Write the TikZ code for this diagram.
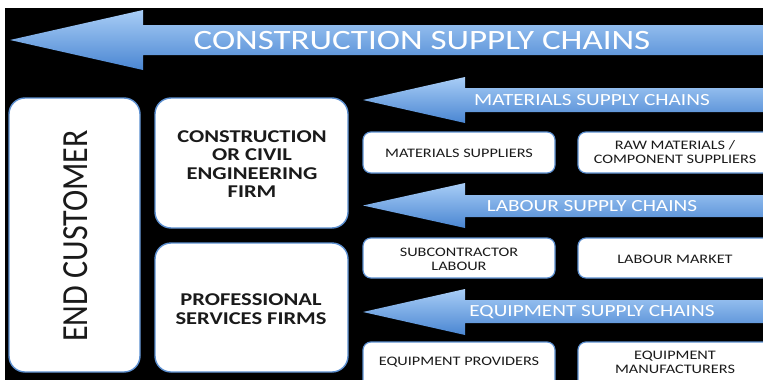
\documentclass[tikz,border=0pt]{standalone}
\usepackage{fontspec}
\setmainfont{Carlito}
\definecolor{arrtop}{HTML}{A8CDF6}
\definecolor{arrbot}{HTML}{4A86D2}
\definecolor{boxline}{HTML}{5C8FD0}
\definecolor{boxtext}{HTML}{1A1A1A}
\tikzset{
  x=1pt, y=-1pt,
  arrowshade/.style={top color=arrtop, bottom color=arrbot, draw=none},
  arrlabel/.style={text=white, inner sep=0pt, xscale=1.25, font=\fontsize{17}{19}\selectfont},
  bigbox/.style={draw=boxline, line width=1.4pt, fill=white, rounded corners=16pt},
  smallbox/.style={draw=boxline, line width=1.2pt, fill=white, rounded corners=8pt},
  bigtext/.style={text=boxtext, align=center, inner sep=0pt, xscale=1.25, font=\bfseries\fontsize{18}{18.5}\selectfont},
  smalltext/.style={text=boxtext, align=center, inner sep=0pt, xscale=1.25, font=\fontsize{13}{14}\selectfont},
}
\begin{document}
\begin{tikzpicture}
\useasboundingbox (0,0) rectangle (763,380);
\clip (0,0) rectangle (763,380);
\fill[white] (0,0) rectangle (763,380);
\fill[black] (5,8) rectangle (770,390);

% big arrow
\shade[arrowshade] (10,40) -- (143,10) -- (143,25) -- (780,25) -- (780,55) -- (143,55) -- (143,70) -- cycle;
\node[arrlabel, font=\fontsize{28}{30}\selectfont] (cs) at (422,41) {CONSTRUCTION SUPPLY CHAINS};

% materials arrow
\shade[arrowshade] (363,100) -- (465,77) -- (465,88) -- (780,88) -- (780,112) -- (465,112) -- (465,123) -- cycle;
\node[arrlabel] (ms) at (592,100) {MATERIALS SUPPLY CHAINS};

% labour arrow
\shade[arrowshade] (363,205.5) -- (465,183) -- (465,195) -- (780,195) -- (780,217) -- (465,217) -- (465,228) -- cycle;
\node[arrlabel] (ls) at (592,206) {LABOUR SUPPLY CHAINS};

% equipment arrow
\shade[arrowshade] (363,312) -- (465,289) -- (465,300) -- (780,300) -- (780,323) -- (465,323) -- (465,335) -- cycle;
\node[arrlabel] (es) at (592,312) {EQUIPMENT SUPPLY CHAINS};

% left boxes
\draw[bigbox] (9,98) rectangle (140,372);
\node[text=boxtext, inner sep=0pt, rotate=90, font=\fontsize{32}{34}\selectfont] (ec) at (76,236) {\scalebox{1}[1.15]{END CUSTOMER}};

\draw[bigbox] (155,98) rectangle (348,228);
\node[bigtext] (cf) at (252,164) {CONSTRUCTION\\OR CIVIL\\ENGINEERING\\FIRM};

\draw[bigbox] (155,243) rectangle (348,372);
\node[bigtext] (pf) at (251,309) {PROFESSIONAL\\SERVICES FIRMS};

% right boxes
\draw[smallbox] (363,132) rectangle (555,173);
\node[smalltext] (msup) at (459,153) {MATERIALS SUPPLIERS};
\draw[smallbox] (578,132) rectangle (790,173);
\node[smalltext] (raw) at (675,152) {RAW MATERIALS /\\COMPONENT SUPPLIERS};

\draw[smallbox] (363,238) rectangle (555,278);
\node[smalltext] (sub) at (459,259) {SUBCONTRACTOR\\LABOUR};
\draw[smallbox] (578,238) rectangle (790,278);
\node[smalltext] (lm) at (675,259) {LABOUR MARKET};

\draw[smallbox] (363,342) rectangle (555,400);
\node[smalltext] (ep) at (459,362) {EQUIPMENT PROVIDERS};
\draw[smallbox] (578,342) rectangle (790,400);
\node[smalltext] (em) at (675,362) {EQUIPMENT\\MANUFACTURERS};
\end{tikzpicture}
\end{document}
